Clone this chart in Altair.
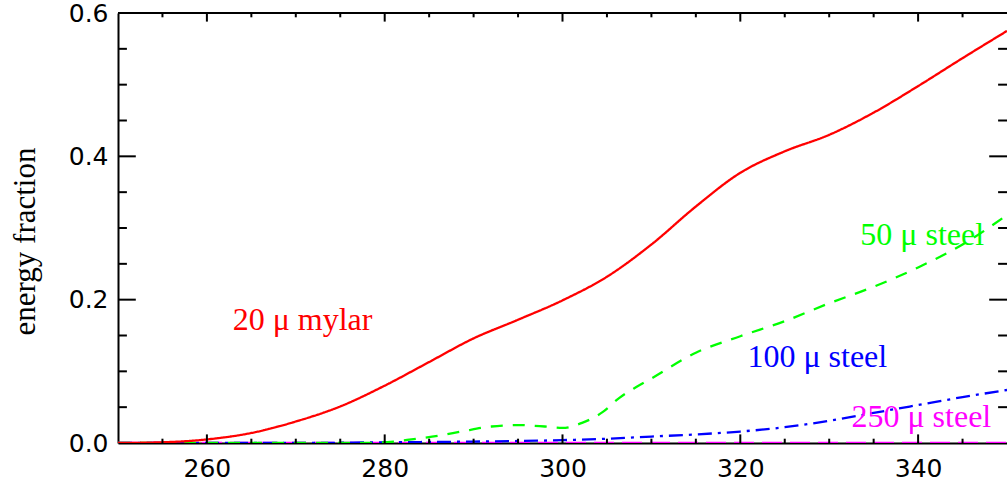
import altair as alt
import pandas as pd

# Transmitted energy fraction versus energy for four absorbers
mylar_x = [250, 255, 260, 265, 270, 275, 280, 285, 290, 295, 300, 305, 310, 315, 320, 325, 330, 335, 340, 345, 350]
mylar_y = [0.0, 0.001, 0.005, 0.014, 0.030, 0.051, 0.080, 0.113, 0.146, 0.172, 0.199, 0.232, 0.277, 0.330, 0.377,
           0.407, 0.430, 0.461, 0.498, 0.537, 0.575]

steel50_x = [250, 260, 270, 278, 281, 283, 286, 289, 292, 295, 298, 300, 302.2, 304.5, 306.4, 308.3, 310, 315, 320,
             325, 330, 335, 340, 345, 350]
steel50_y = [0.0, 0.0, 0.0, 0.0, 0.002, 0.005, 0.010, 0.017, 0.023, 0.025, 0.023, 0.021, 0.028, 0.043, 0.063, 0.078,
             0.090, 0.126, 0.149, 0.170, 0.195, 0.218, 0.245, 0.277, 0.318]

steel100_x = [250, 260, 270, 280, 290, 300, 305, 310, 315, 320, 325, 330, 335, 340, 345, 350]
steel100_y = [0.0, 0.0, 0.0, 0.001, 0.002, 0.004, 0.006, 0.009, 0.012, 0.016, 0.022, 0.031, 0.042, 0.053, 0.064, 0.074]

steel250_x = [250, 300, 350]
steel250_y = [0.0, 0.0, 0.0]

series_names = ["20 μ mylar", "50 μ steel", "100 μ steel", "250 μ steel"]
series_colors = ["#ff0000", "#00ff00", "#0000ff", "#ff00ff"]
series_dashes = [[1, 0], [12, 10], [14, 6, 3, 6], [20, 8]]

# Annotation anchors (left end / baseline of each label, in data units)
label_x = [262.9, 333.5, 320.8, 332.5]
label_y = [0.158, 0.276, 0.106, 0.0225]

x_major = [260, 280, 300, 320, 340]
x_minor = [255, 265, 270, 275, 285, 290, 295, 305, 310, 315, 325, 330, 335, 345]
y_major = [0.2, 0.4]
y_minor = [0.05, 0.1, 0.15, 0.25, 0.3, 0.35, 0.45, 0.5, 0.55]
y_labels = [0.0, 0.2, 0.4, 0.6]

W, H = 889, 430

frames = []
for name, xs, ys in [(series_names[3], steel250_x, steel250_y),
                     (series_names[2], steel100_x, steel100_y),
                     (series_names[1], steel50_x, steel50_y),
                     (series_names[0], mylar_x, mylar_y)]:
    frames.append(pd.DataFrame({"energy": xs, "fraction": ys, "series": name}))
curves = pd.concat(frames, ignore_index=True)

labels = pd.DataFrame({"energy": label_x, "fraction": label_y, "series": series_names})

xscale = alt.Scale(domain=[250, 350], nice=False, zero=False)
yscale = alt.Scale(domain=[0, 0.6], nice=False, zero=False)

x_enc = alt.X("energy:Q", scale=xscale,
              axis=alt.Axis(values=x_major, title=None, ticks=False, grid=False, labelPadding=13,
                            labelFont="DejaVu Sans", labelFontSize=25, labelColor="black",
                            domainColor="black", domainWidth=2))
y_enc = alt.Y("fraction:Q", scale=yscale,
              axis=alt.Axis(values=y_labels, format=".1f", title="energy fraction", ticks=False, grid=False,
                            labelPadding=10, labelFont="DejaVu Sans", labelFontSize=25, labelColor="black",
                            domainColor="black", domainWidth=2, titleFont="Liberation Serif",
                            titleFontSize=31, titleFontWeight="normal", titleColor="black",
                            titleX=-93, titleY=228, titleAngle=-90, titleAlign="center",
                            titleBaseline="middle"))

color = alt.Color("series:N", scale=alt.Scale(domain=series_names, range=series_colors), legend=None)

lines = alt.Chart(curves).mark_line(strokeWidth=2.3, clip=True, interpolate="monotone").encode(
    x=x_enc, y=y_enc, color=color,
    strokeDash=alt.StrokeDash("series:N", scale=alt.Scale(domain=series_names, range=series_dashes),
                              legend=None),
    detail="series:N",
)

text = alt.Chart(labels).mark_text(font="Liberation Serif", fontSize=32, align="left",
                                   baseline="alphabetic").encode(
    x=alt.X("energy:Q", scale=xscale), y=alt.Y("fraction:Q", scale=yscale), text="series:N", color=color
)

xt_major = pd.DataFrame({"energy": x_major})
xt_minor = pd.DataFrame({"energy": x_minor})
yt_major = pd.DataFrame({"fraction": y_major})
yt_minor = pd.DataFrame({"fraction": y_minor})


def xticks(df, length):
    bottom = alt.Chart(df).mark_rule(color="black", strokeWidth=2).encode(
        x=alt.X("energy:Q", scale=xscale), y=alt.value(H), y2=alt.value(H - length))
    top = alt.Chart(df).mark_rule(color="black", strokeWidth=2).encode(
        x=alt.X("energy:Q", scale=xscale), y=alt.value(0), y2=alt.value(length))
    return bottom + top


def yticks(df, length):
    left = alt.Chart(df).mark_rule(color="black", strokeWidth=2).encode(
        y=alt.Y("fraction:Q", scale=yscale), x=alt.value(0), x2=alt.value(length))
    right = alt.Chart(df).mark_rule(color="black", strokeWidth=2).encode(
        y=alt.Y("fraction:Q", scale=yscale), x=alt.value(W), x2=alt.value(W - length))
    return left + right


top_line = alt.Chart(pd.DataFrame({"energy": [250]})).mark_rule(color="black", strokeWidth=2).encode(
    x=alt.value(0), x2=alt.value(W), y=alt.value(0))

chart = alt.layer(
    lines, text,
    xticks(xt_major, 8.6), xticks(xt_minor, 4.3),
    yticks(yt_major, 17.8), yticks(yt_minor, 8.9),
    top_line,
).properties(
    width=W, height=H,
    padding={"left": 118, "top": 13, "right": 0, "bottom": 40},
    autosize=alt.AutoSizeParams(type="none"),
).configure_view(strokeWidth=0).configure(background="white")

chart.save("out.html", embed_options={"renderer": "svg", "actions": False})
